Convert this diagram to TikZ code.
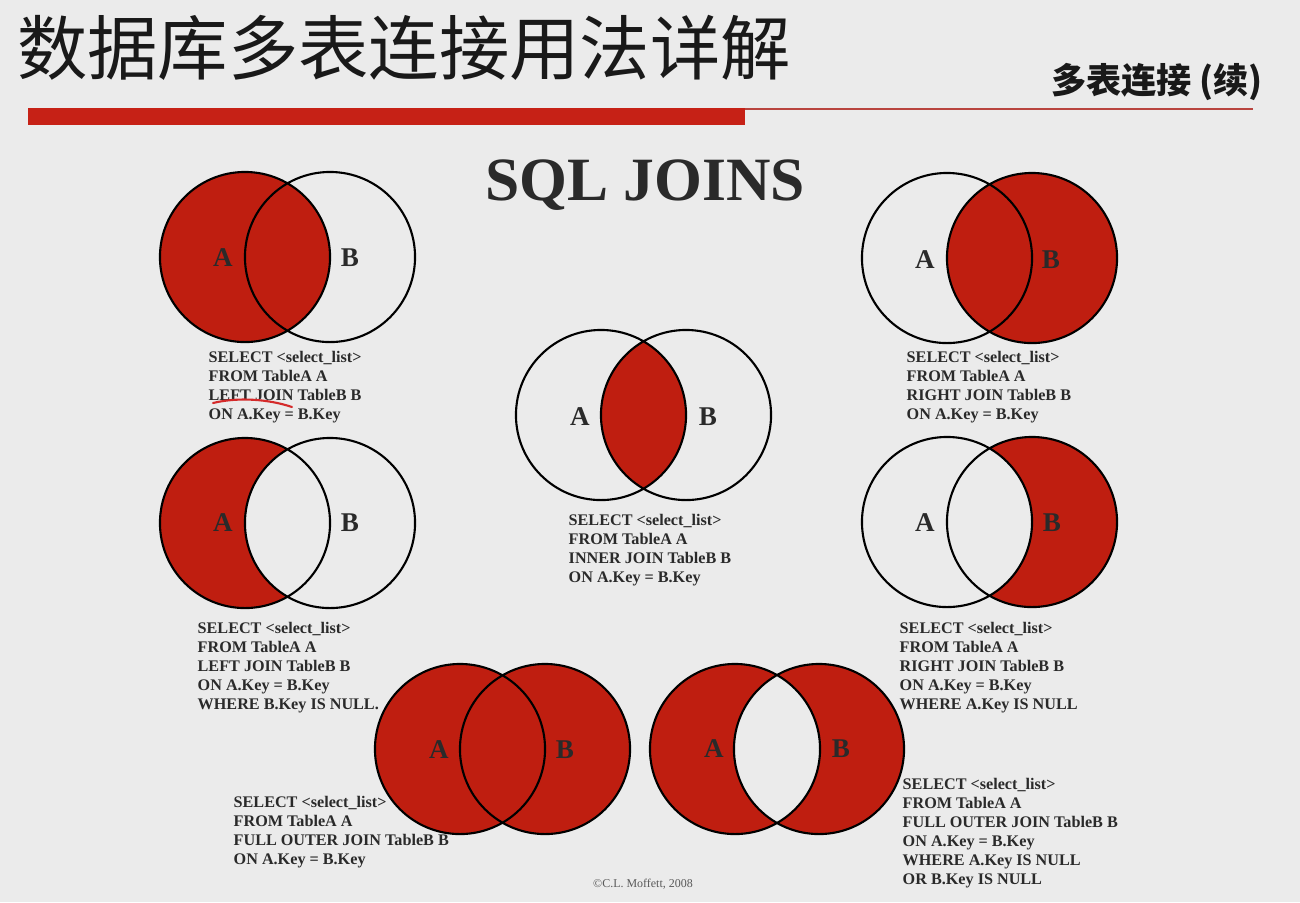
\documentclass[tikz,border=0pt]{standalone}
\usepackage{fontspec}
\setmainfont{Liberation Serif}
\newfontfamily\cjkfont{Noto Sans CJK SC}
\definecolor{pagebg}{HTML}{EBEBEB}
\definecolor{joinred}{HTML}{BF1E10}
\definecolor{barred}{HTML}{C62116}
\definecolor{rulered}{HTML}{B9453F}
\definecolor{inkgray}{HTML}{2A2A2A}
\definecolor{penred}{HTML}{D42A2A}

\begin{document}
\begin{tikzpicture}[x=0.01cm,y=-0.01cm,
  ring/.style={draw=black,line width=0.6pt},
  setlabel/.style={font=\fontsize{7.7}{9}\selectfont\bfseries,text=inkgray,inner sep=0pt},
  % placed by the baseline of the last line
  sqlcode/.style={font=\fontsize{4.6}{5.4}\selectfont\bfseries,text=inkgray,align=left,anchor=base west,inner sep=0pt},
]
\def\rr{0.85cm}
\fill[pagebg] (0,0) rectangle (1300,902);
\useasboundingbox (0,0) rectangle (1300,902);

% ---------- heading ----------
\node[font=\cjkfont\fontsize{20}{24}\selectfont,text=black!90,inner sep=0pt] (title) at (404,48) {数据库多表连接用法详解};
\coordinate (barL) at (28,108);
\coordinate (barR) at (745,125);
\coordinate (ruleL) at (745,109);
\coordinate (ruleR) at (1253,109);
\fill[barred] (barL) rectangle (barR);
\draw[rulered,line width=0.6pt] (ruleL) -- (ruleR);
\node[font=\cjkfont\bfseries\fontsize{10}{12}\selectfont,text=black!90,inner sep=0pt] (subtitle) at (1157,82) {多表连接 (续)};
\node[font=\fontsize{17.5}{20}\selectfont\bfseries,text=inkgray,inner sep=0pt] (heading) at (645,185) {SQL JOINS};

% ---------- set centres ----------
\coordinate (tlA) at (245,257);  \coordinate (tlB) at (330,257);
\coordinate (trA) at (947,258);  \coordinate (trB) at (1032,258);
\coordinate (mA)  at (601,415);  \coordinate (mB)  at (686,415);
\coordinate (mlA) at (245,523);  \coordinate (mlB) at (330,523);
\coordinate (mrA) at (947,522);  \coordinate (mrB) at (1032,522);
\coordinate (blA) at (460,749);  \coordinate (blB) at (545,749);
\coordinate (brA) at (735,749);  \coordinate (brB) at (819,749);

% left join
\fill[joinred] (tlA) circle[radius=\rr];
% right join
\fill[joinred] (trB) circle[radius=\rr];
% inner join
\begin{scope}
  \clip (mA) circle[radius=\rr];
  \fill[joinred] (mB) circle[radius=\rr];
\end{scope}
% left join, B excluded
\begin{scope}
  \clip (mlA) circle[radius=\rr];
  \fill[joinred,even odd rule] (mlA) circle[radius=\rr] (mlB) circle[radius=\rr];
\end{scope}
% right join, A excluded
\begin{scope}
  \clip (mrB) circle[radius=\rr];
  \fill[joinred,even odd rule] (mrA) circle[radius=\rr] (mrB) circle[radius=\rr];
\end{scope}
% full outer join
\fill[joinred] (blA) circle[radius=\rr] (blB) circle[radius=\rr];
% full outer join, both keys null
\fill[joinred,even odd rule] (brA) circle[radius=\rr] (brB) circle[radius=\rr];

% outlines
\foreach \p in {tl,tr,m,ml,mr,bl,br}{
  \draw[ring] (\p A) circle[radius=\rr] (\p B) circle[radius=\rr];
}

% set labels
\node[setlabel] (tlLA) at (223,258) {A};  \node[setlabel] (tlLB) at (350,258) {B};
\node[setlabel] (trLA) at (925,260) {A};  \node[setlabel] (trLB) at (1051,260) {B};
\node[setlabel] (mLA)  at (580,417) {A};  \node[setlabel] (mLB)  at (708,417) {B};
\node[setlabel] (mlLA) at (223,523) {A};  \node[setlabel] (mlLB) at (350,523) {B};
\node[setlabel] (mrLA) at (925,523) {A};  \node[setlabel] (mrLB) at (1052,523) {B};
\node[setlabel] (blLA) at (439,750) {A};  \node[setlabel] (blLB) at (565,750) {B};
\node[setlabel] (brLA) at (714,749) {A};  \node[setlabel] (brLB) at (841,749) {B};

% queries (positions are the last line's baseline)
\node[sqlcode] (tlQ) at (208,419) {SELECT <select\_list>\\FROM TableA A\\LEFT JOIN TableB B\\ON A.Key = B.Key};
\node[sqlcode] (trQ) at (906,419) {SELECT <select\_list>\\FROM TableA A\\RIGHT JOIN TableB B\\ON A.Key = B.Key};
\node[sqlcode] (mQ)  at (568,582) {SELECT <select\_list>\\FROM TableA A\\INNER JOIN TableB B\\ON A.Key = B.Key};
\node[sqlcode] (mlQ) at (197,709) {SELECT <select\_list>\\FROM TableA A\\LEFT JOIN TableB B\\ON A.Key = B.Key\\WHERE B.Key IS NULL.};
\node[sqlcode] (mrQ) at (899,709) {SELECT <select\_list>\\FROM TableA A\\RIGHT JOIN TableB B\\ON A.Key = B.Key\\WHERE A.Key IS NULL};
\node[sqlcode] (blQ) at (233,864) {SELECT <select\_list>\\FROM TableA A\\FULL OUTER JOIN TableB B\\ON A.Key = B.Key};
\node[sqlcode] (brQ) at (902,884) {SELECT <select\_list>\\FROM TableA A\\FULL OUTER JOIN TableB B\\ON A.Key = B.Key\\WHERE A.Key IS NULL\\OR B.Key IS NULL};

% pen mark under LEFT JOIN
\coordinate (penS) at (213,403);
\coordinate (penE) at (292,407);
\draw[penred,line width=0.6pt,line cap=round] (penS) .. controls (238,397) and (268,399) .. (penE);

% credit line
\node[font=\fontsize{3.4}{4}\selectfont,text=black!65,inner sep=0pt] (credit) at (643,884) {©C.L. Moffett, 2008};
\end{tikzpicture}
\end{document}
